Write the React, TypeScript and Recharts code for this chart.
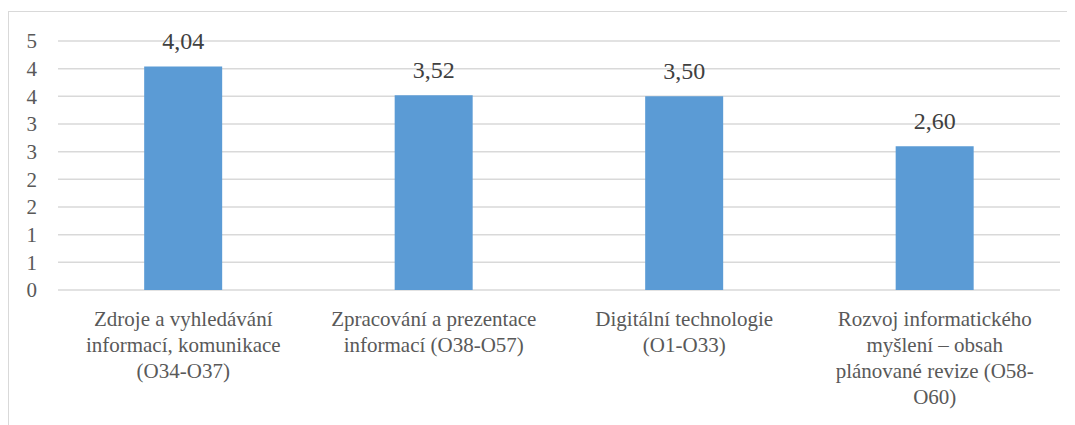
import React from "react";
import { BarChart, Bar, XAxis, YAxis, CartesianGrid, LabelList } from "recharts";

const categories = [
  "Zdroje a vyhledávání\ninformací, komunikace\n(O34-O37)",
  "Zpracování a prezentace\ninformací (O38-O57)",
  "Digitální technologie\n(O1-O33)",
  "Rozvoj informatického\nmyšlení – obsah\nplánované revize (O58-\nO60)",
];
const values = [4.04, 3.52, 3.5, 2.6];
const yTicks = [0, 0.5, 1, 1.5, 2, 2.5, 3, 3.5, 4, 4.5];

const data = categories.map((c, i) => ({ name: c, value: values[i] }));

const FONT = "'Times New Roman', Tinos, 'Liberation Serif', 'DejaVu Serif', serif";

const XTick = (props: any) => {
  const { x, y, payload } = props;
  const lines = String(payload.value).split("\n");
  return (
    <g transform={`translate(${x},${y})`}>
      <text textAnchor="middle" style={{ fill: "#595959", fontSize: 21, fontFamily: FONT }}>
        {lines.map((l, i) => (
          <tspan key={i} x={0} y={28 + i * 26}>
            {l}
          </tspan>
        ))}
      </text>
    </g>
  );
};

export default function App() {
  return (
    <div
      style={{
        marginTop: 3,
        width: 1067,
        height: 414,
        borderTop: "1px solid #d9d9d9",
        borderLeft: "1px solid #d9d9d9",
        boxSizing: "border-box",
        fontFamily: FONT,
      }}
    >
      <BarChart
        width={1066}
        height={413}
        data={data}
        margin={{ top: 29, right: 15, left: 0, bottom: 0 }}
        barCategoryGap="34.4%"
        style={{ fontFamily: FONT }}
      >
        <CartesianGrid vertical={false} stroke="#d9d9d9" strokeWidth={1.5} />
        <XAxis
          dataKey="name"
          axisLine={false}
          tickLine={false}
          height={135}
          interval={0}
          tick={<XTick />}
        />
        <YAxis
          domain={[0, 4.5]}
          ticks={yTicks}
          interval={0}
          axisLine={false}
          tickLine={false}
          tickSize={0}
          tickMargin={21}
          width={49}
          tickFormatter={(v: number) => String(Math.round(v))}
          tick={{ fill: "#595959", fontSize: 21, style: { fontFamily: FONT } }}
        />
        <Bar dataKey="value" fill="#5b9bd5" isAnimationActive={false}>
          <LabelList
            dataKey="value"
            position="top"
            offset={17}
            formatter={(v: number) => v.toFixed(2).replace(".", ",")}
            style={{ fill: "#404040", fontSize: 24, fontFamily: FONT }}
          />
        </Bar>
      </BarChart>
    </div>
  );
}
